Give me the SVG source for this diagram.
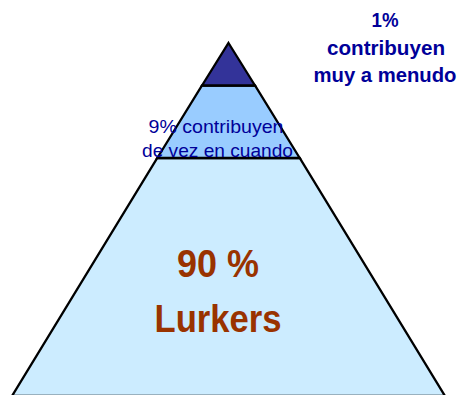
<svg xmlns="http://www.w3.org/2000/svg" width="463" height="395" viewBox="0 0 463 395">
<style>
.lvl{stroke:#000;stroke-width:2.3;stroke-linejoin:miter}
.navy{fill:#000099;font-family:"Liberation Sans",Arial,sans-serif}
.b{font-weight:bold}
.big{fill:#993300;font-family:"Liberation Sans",Arial,sans-serif;font-weight:bold;font-size:38px}
</style>
<rect width="463" height="395" fill="#fff"/>
<g id="level-bottom">
<polygon class="lvl" fill="#CCECFF" points="157.3,158 299.7,158 445,396 12,396"/>
<text class="big" x="218" y="277" text-anchor="middle" textLength="82" lengthAdjust="spacingAndGlyphs">90 %</text>
<text class="big" x="218" y="332" text-anchor="middle" textLength="127" lengthAdjust="spacingAndGlyphs">Lurkers</text>
</g>
<g id="level-middle">
<polygon class="lvl" fill="#99CCFF" points="202,85.5 255,85.5 299.7,158 157.3,158"/>
<text class="navy" x="216" y="133" font-size="19" text-anchor="middle" textLength="135" lengthAdjust="spacingAndGlyphs">9% contribuyen</text>
<text class="navy" x="217.5" y="157" font-size="19" text-anchor="middle" textLength="151" lengthAdjust="spacingAndGlyphs">de vez en cuando</text>
</g>
<g id="level-top">
<polygon class="lvl" fill="#333399" points="228.5,43 255,85.5 202,85.5"/>
<text class="navy b" x="385" y="27" font-size="20" text-anchor="middle" textLength="27" lengthAdjust="spacingAndGlyphs">1%</text>
<text class="navy b" x="386" y="55" font-size="20" text-anchor="middle" textLength="118" lengthAdjust="spacingAndGlyphs">contribuyen</text>
<text class="navy b" x="385" y="82" font-size="20" text-anchor="middle" textLength="143" lengthAdjust="spacingAndGlyphs">muy a menudo</text>
</g>
<g id="connectors"/>
</svg>
